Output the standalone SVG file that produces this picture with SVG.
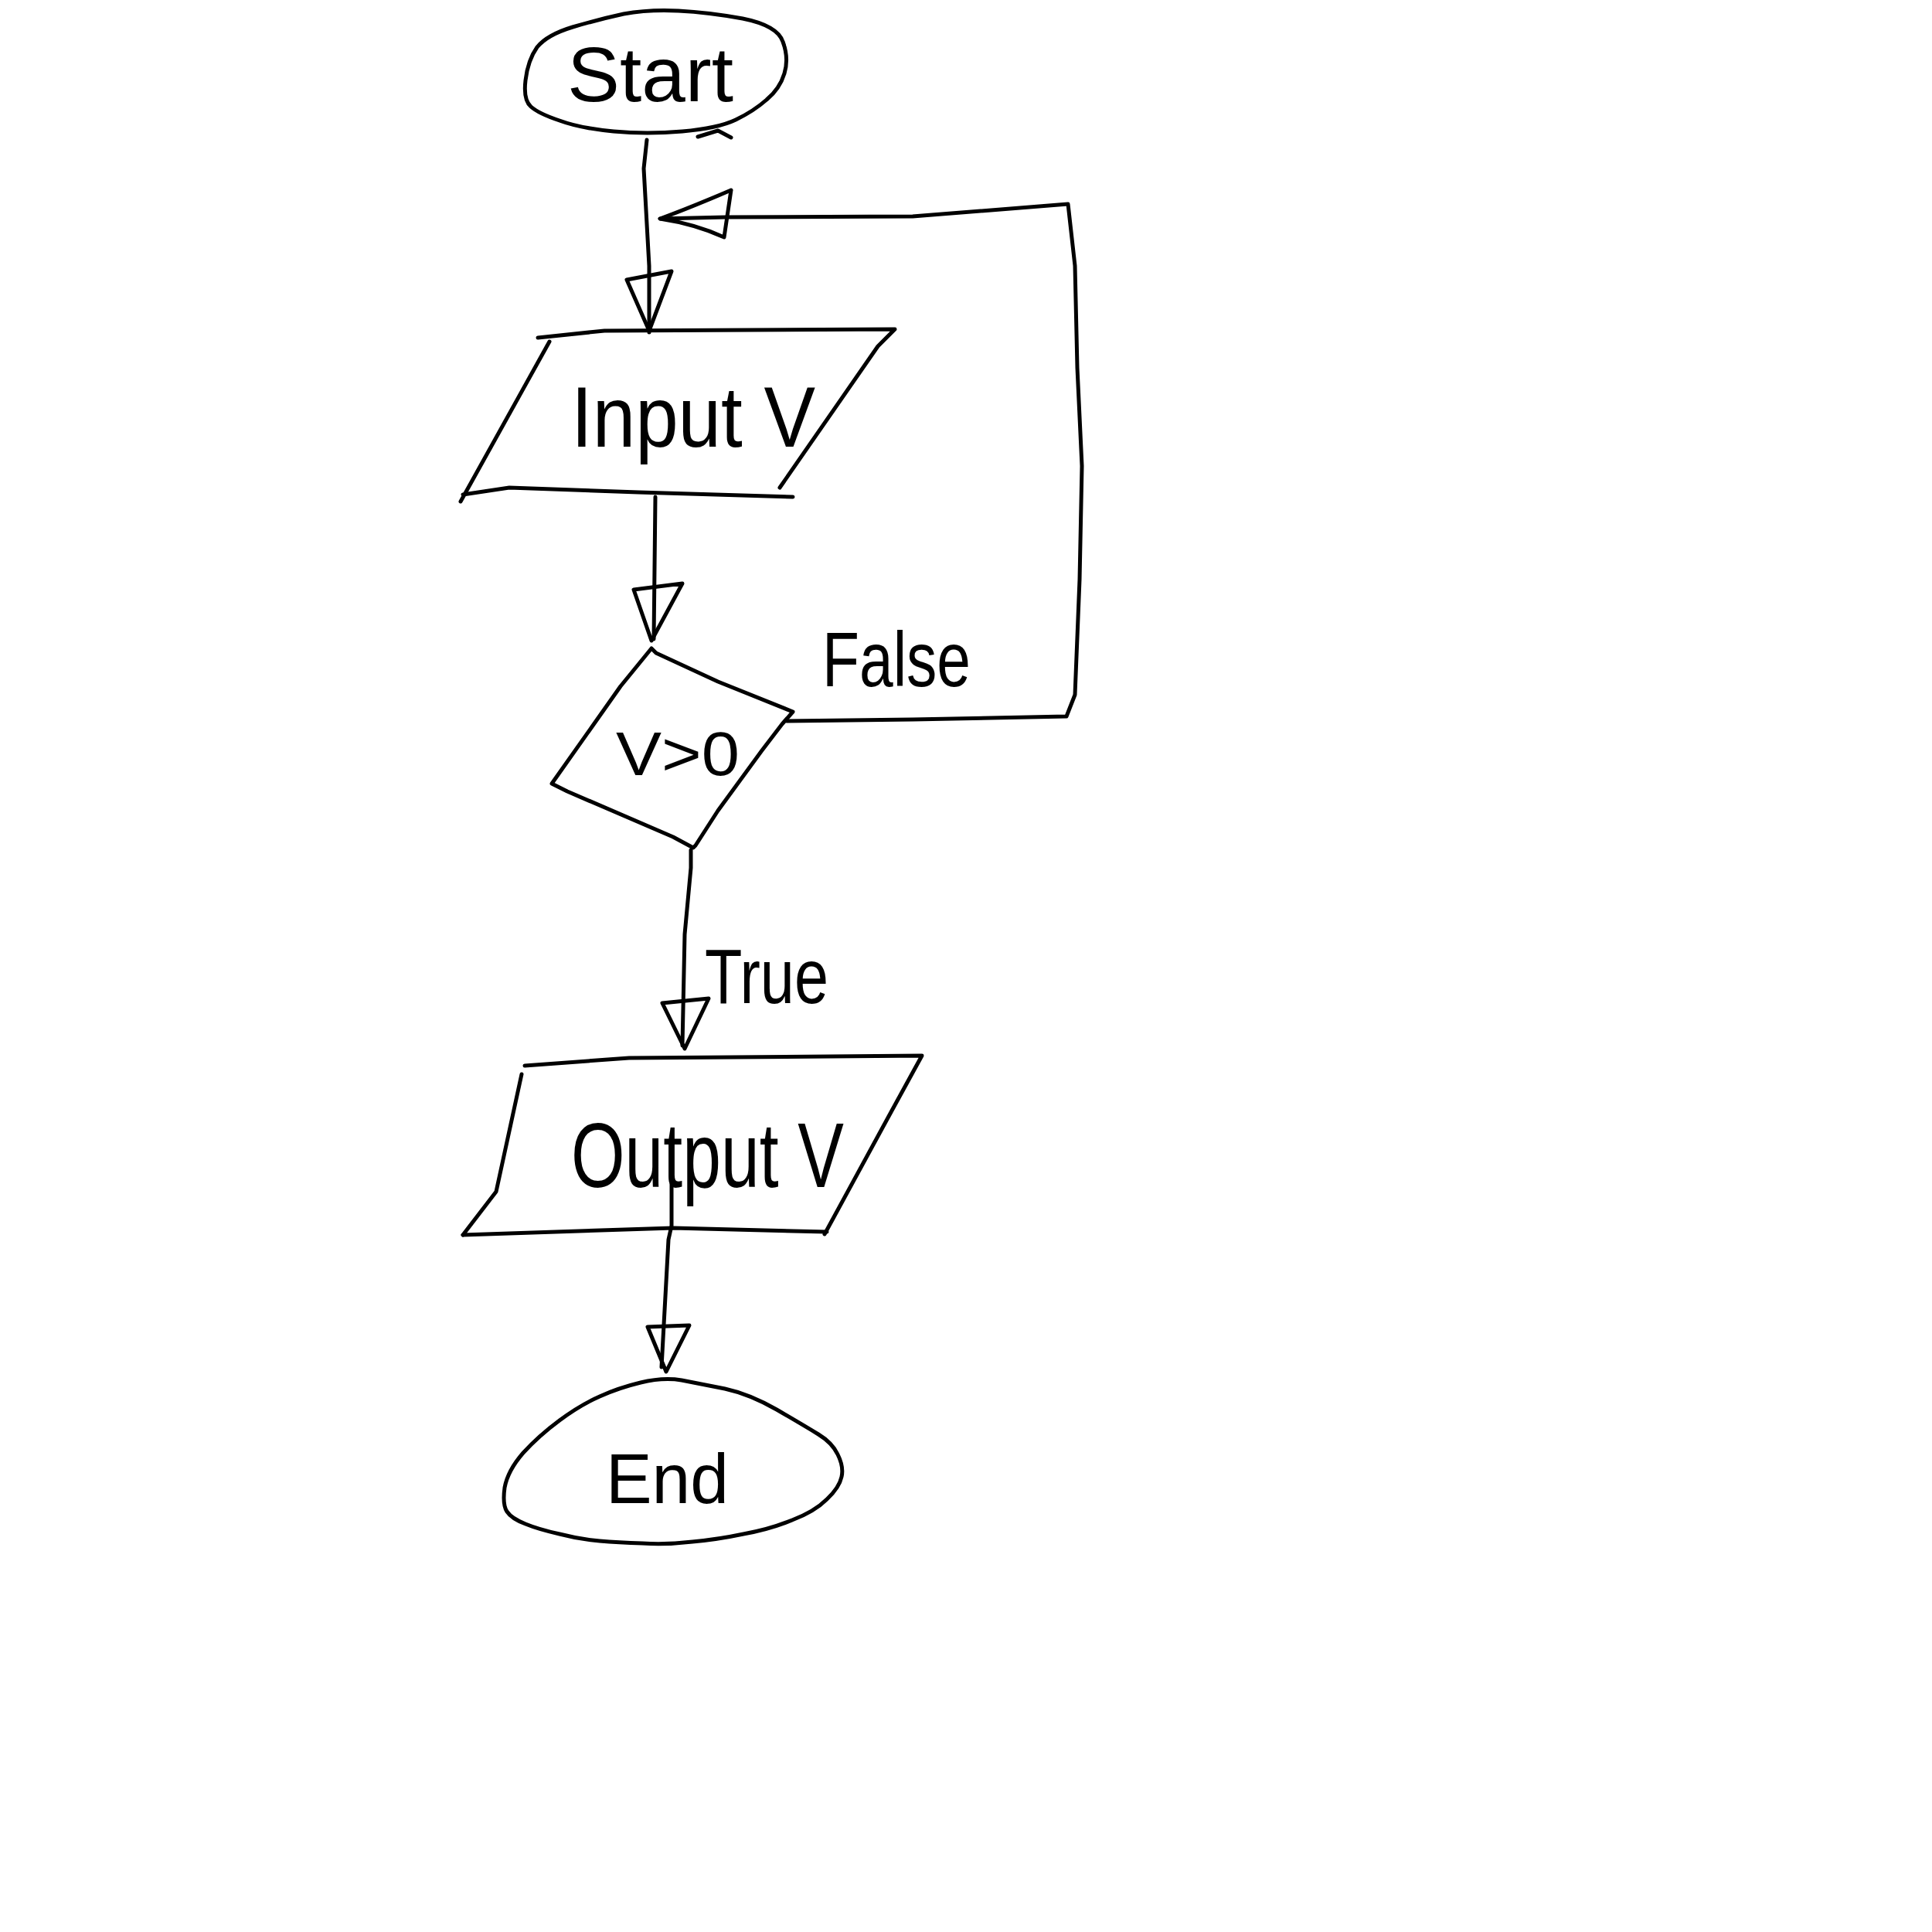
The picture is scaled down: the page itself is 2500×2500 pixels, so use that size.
<svg xmlns="http://www.w3.org/2000/svg" width="2500" height="2500" viewBox="0 0 2500 2500">
<style>
.s{fill:none;stroke:#000;stroke-width:5;stroke-linejoin:round;stroke-linecap:round}
.t{font-family:"Liberation Sans",Arial,sans-serif;fill:#000;font-weight:normal}
</style>
<rect width="2500" height="2500" fill="#fff"/>
<g id="start">
<path class="s" d="M680,104 Q683,78 695,61 Q708,45 741,35 Q775,25 807,18 Q840,12 878,14 Q917,16 961,24 Q1006,33 1013,54 Q1021,75 1015,95 Q1009,115 992,129 Q975,144 952,155 Q929,166 883,170 Q837,174 794,170 Q751,166 724,156 Q697,147 687,138 Q677,129 680,104 Z"/>
<path class="s" d="M903,177 L929,169 L946,178"/>
<text class="t" x="734" y="131" font-size="100" textLength="215" lengthAdjust="spacingAndGlyphs">Start</text>
</g>
<g id="input">
<path class="s" d="M696,437 L782,428 L1158,426 L1136,448 L1009,631"/>
<path class="s" d="M1026,643 L826,637 L659,631 L599,640"/>
<path class="s" d="M596,649 L711,442"/>
<text class="t" x="739" y="578" font-size="112" textLength="316" lengthAdjust="spacingAndGlyphs">Input V</text>
</g>
<g id="decision">
<path class="s" d="M843,839 L849,845 L929,882 L1026,921 L1012,937 L986,971 L929,1049 L900,1094 L897,1097 L871,1083 L734,1024 L714,1014 L803,888 Z"/>
<text class="t" x="797" y="1003" font-size="80" textLength="160" lengthAdjust="spacingAndGlyphs">V&gt;0</text>
</g>
<g id="output">
<path class="s" d="M679,1379 L814,1369 L1193,1366 L1153,1439 L1067,1597"/>
<path class="s" d="M1070,1594 L871,1589 L599,1598"/>
<path class="s" d="M599,1598 L642,1542 L675,1390"/>
<text class="t" x="739" y="1536" font-size="118" textLength="353" lengthAdjust="spacingAndGlyphs">Output V</text>
</g>
<g id="end">
<path class="s" d="M829,1789 Q800,1796 776,1807 Q751,1818 724,1838 Q697,1858 677,1880 Q657,1903 653,1925 Q650,1947 656,1956 Q662,1965 680,1972 Q697,1979 724,1985 Q751,1992 776,1994 Q800,1996 831,1997 Q862,1999 896,1995 Q929,1992 962,1985 Q996,1979 1025,1967 Q1054,1956 1070,1940 Q1086,1925 1089,1911 Q1092,1898 1084,1882 Q1077,1867 1059,1856 Q1041,1845 1005,1824 Q970,1804 938,1797 Q907,1791 882,1786 Q858,1782 829,1789 Z"/>
<text class="t" x="784" y="1945" font-size="90" textLength="159" lengthAdjust="spacingAndGlyphs">End</text>
</g>
<g id="connectors">
<path class="s" d="M837,181 L833,218 L840,344 L840,430"/>
<path class="s" d="M811,362 L869,351 L840,428 Z"/>
<path class="s" d="M848,643 L846,827"/>
<path class="s" d="M820,763 L883,755 L843,829 Z"/>
<path class="s" d="M1018,933 L1181,931 L1380,927 L1391,899 L1397,750 L1400,603 L1394,476 L1391,344 L1382,264 L1181,280 L940,281 L854,283"/>
<path class="s" d="M946,246 Q890,270 854,283 Q900,290 937,307 L946,246"/>
<text class="t" x="1064" y="888" font-size="100" textLength="192" lengthAdjust="spacingAndGlyphs">False</text>
<path class="s" d="M894,1100 L894,1123 L886,1209 L883,1353"/>
<path class="s" d="M857,1298 L917,1292 L886,1357 Z"/>
<text class="t" x="912" y="1298" font-size="100" textLength="160" lengthAdjust="spacingAndGlyphs">True</text>
<path class="s" d="M869,1532 L869,1586 L865,1604 L856,1769"/>
<path class="s" d="M838,1717 L892,1715 L862,1775 Z"/>
</g>
</svg>
